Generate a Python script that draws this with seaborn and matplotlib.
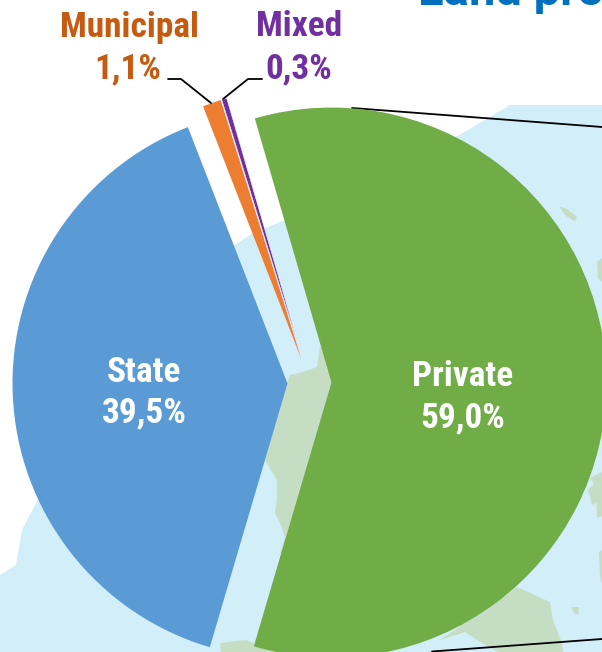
import matplotlib.pyplot as plt
import seaborn as sns

# Land ownership shares
categories = ['Private', 'State', 'Municipal', 'Mixed']
shares = [59.0, 39.5, 1.1, 0.3]
share_labels = ['59,0%', '39,5%', '1,1%', '0,3%']
colors = ['#70AD47', '#5B9BD5', '#ED7D31', '#7030A0']
explode = [22, 22, 25, 25]

W, H = 602, 652
SEA = '#D2EEF9'
LAND = '#C5DDC3'

sns.set_theme(style='white')
plt.rcParams['font.family'] = ['Roboto Condensed', 'Liberation Sans Narrow', 'Roboto', 'DejaVu Sans']

fig = plt.figure(figsize=(W / 100, H / 100), dpi=100)
ax = fig.add_axes([0, 0, 1, 1])
ax.set_xlim(0, W)
ax.set_ylim(0, H)
ax.axis('off')


def flip(points):
    return [(x, H - y) for x, y in points]


# Background map
sea = [(0, 575), (16, 565), (22, 530), (35, 505), (42, 490), (100, 300), (235, 245),
       (253, 233), (280, 222), (300, 215), (463, 133), (510, 105), (602, 105), (602, 652), (0, 652)]
land_parts = [
    [(287, 383), (290, 375), (303, 372), (317, 367), (320, 347), (345, 340), (345, 560), (280, 553),
     (285, 537), (280, 523), (275, 513), (277, 500), (277, 480), (265, 460), (250, 420)],
    [(220, 643), (235, 641), (247, 640), (262, 648), (280, 652), (221, 652)],
    [(440, 640), (465, 623), (483, 613), (517, 587), (550, 602), (553, 620), (562, 643), (563, 652),
     (498, 652), (477, 640), (465, 632)],
    [(559, 206), (567, 209), (577, 217), (575, 221), (566, 216)],
    [(597, 262), (602, 258), (602, 282), (598, 278)],
    [(588, 490), (594, 484), (590, 478), (602, 472), (602, 500), (592, 505)],
    [(599, 552), (602, 550), (602, 584), (600, 576)],
    [(571, 607), (579, 607), (578, 615), (574, 613)],
    [(596, 497), (602, 495), (602, 516), (597, 518)],
]
ax.fill(*zip(*flip(sea)), color=SEA, lw=0, zorder=0.2)
for part in land_parts:
    ax.fill(*zip(*flip(part)), color=LAND, lw=0, zorder=0.3)

# Connector lines to the map
ax.plot(*zip(*flip([(352, 108), (602, 127)])), color='black', lw=1.3, zorder=0.6)
ax.plot(*zip(*flip([(432, 651.5), (602, 639)])), color='black', lw=1.3, zorder=0.6)

# Pie
wedges, _ = ax.pie(shares, colors=colors, explode=explode, center=(309.5, H - 382.5), radius=275,
                   startangle=106.2, counterclock=False, frame=True,
                   wedgeprops={'linewidth': 0, 'edgecolor': 'none'})
ax.set_xlim(0, W)
ax.set_ylim(0, H)
ax.axis('off')
wedges[2].set_radius(271)
wedges[3].set_radius(271)
wedges[3].set_edgecolor('white')
wedges[3].set_linewidth(0.3)

# Text labels
ax.text(463, H - 376, categories[0], color='white', fontsize=25.5, fontweight='bold', ha='center', va='center')
ax.text(463, H - 418, share_labels[0], color='white', fontsize=25.5, fontweight='bold', ha='center', va='center')
ax.text(144, H - 372, categories[1], color='white', fontsize=25.5, fontweight='bold', ha='center', va='center')
ax.text(144, H - 413, share_labels[1], color='white', fontsize=25.5, fontweight='bold', ha='center', va='center')
ax.text(129, H - 27, categories[2], color='#C55A11', fontsize=25.5, fontweight='bold', ha='center', va='center')
ax.text(161, H - 69, share_labels[2], color='#C55A11', fontsize=25.5, fontweight='bold', ha='right', va='center')
ax.text(299, H - 26, categories[3], color='#7030A0', fontsize=25.5, fontweight='bold', ha='center', va='center')
ax.text(299, H - 69, share_labels[3], color='#7030A0', fontsize=25.5, fontweight='bold', ha='center', va='center')
ax.text(418, H - 5, 'Land pro', color='#0070C0', fontsize=34, fontweight='bold', family='Roboto', ha='left', va='baseline')

# Leader lines
ax.plot(*zip(*flip([(168, 79), (181, 79), (211, 103)])), color='black', lw=1.3)
ax.plot(*zip(*flip([(262, 79), (248, 79), (223, 99)])), color='black', lw=1.3)

fig.savefig('out.png', dpi=100)
